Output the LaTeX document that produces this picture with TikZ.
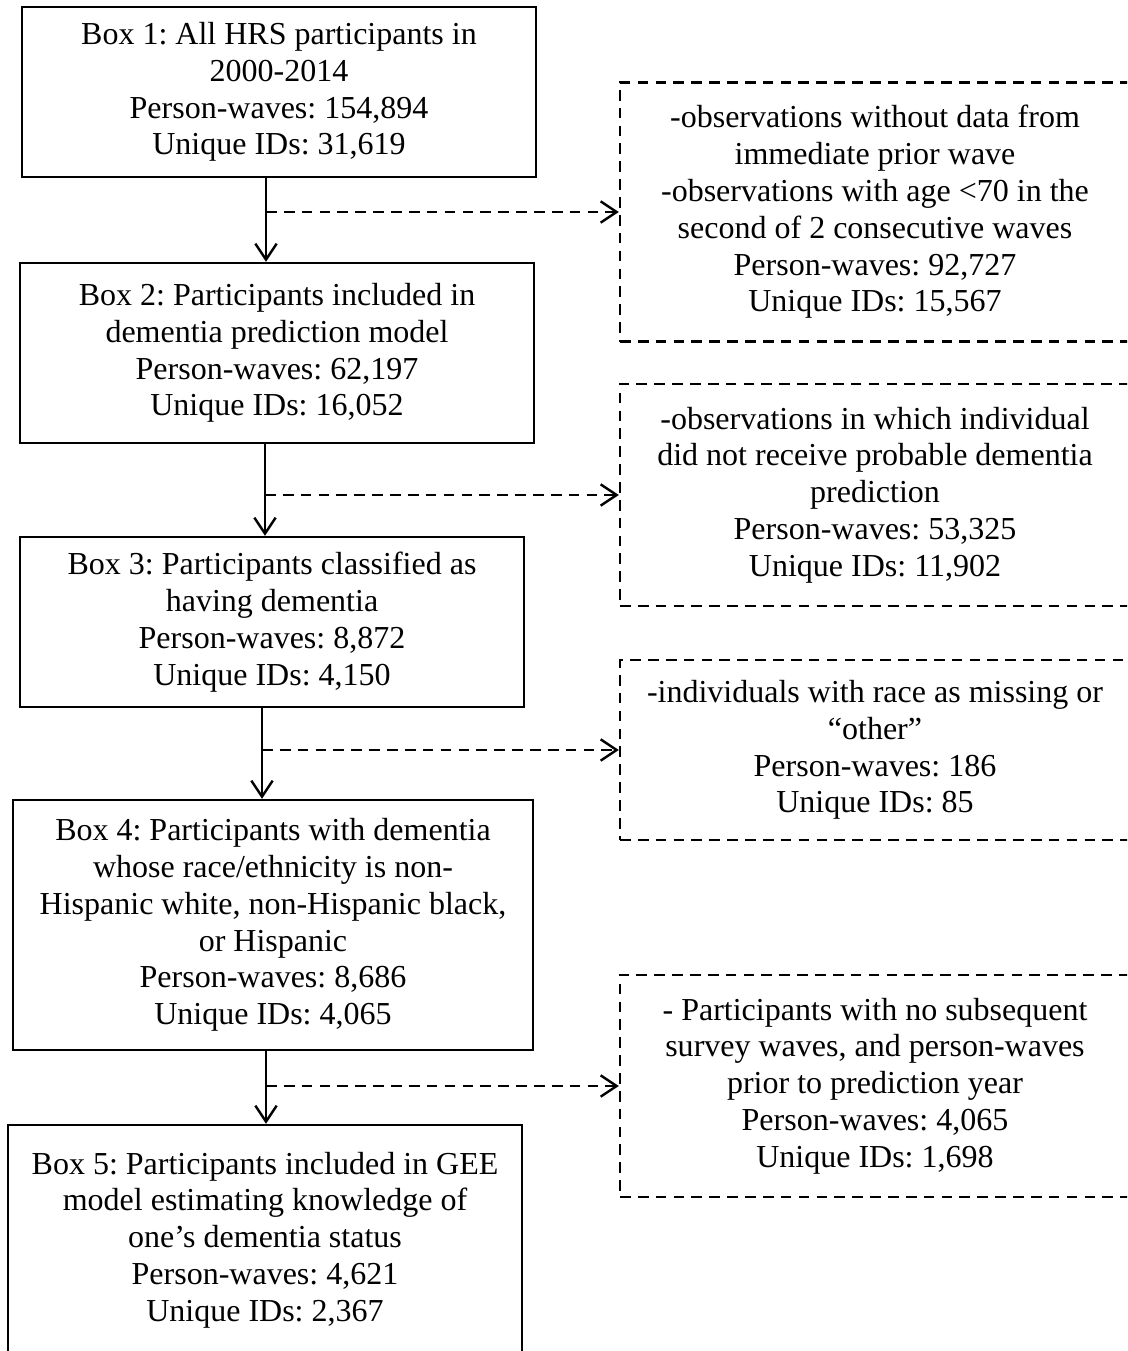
\documentclass[tikz,border=0pt]{standalone}
\usepackage{fontspec}
\setmainfont{Liberation Serif}
\usetikzlibrary{arrows.meta}
\frenchspacing

\begin{document}
\begin{tikzpicture}[x=0.375pt, y=-0.375pt, line width=0.9pt,
                    box/.style={draw, rectangle, align=center, inner sep=0pt, font=\fontsize{12}{13.8}\selectfont},
                    cut/.style={box, dash pattern=on 4pt off 2.7pt, minimum width=510*0.375pt},
                    flow/.style={-{Straight Barb[length=6pt, width=8pt]}}]

    \useasboundingbox (0,0) rectangle (1127,1351);
    \clip (0,0) rectangle (1127,1351);

    % Boxes
    \node[box, minimum width=514*0.375pt, minimum height=170*0.375pt] (B1) at (279, 92)
        {Box 1: All HRS participants in\\2000-2014\\Person-waves: 154,894\\Unique IDs: 31,619};
    \node[box, minimum width=514*0.375pt, minimum height=180*0.375pt] (B2) at (277, 353)
        {Box 2: Participants included in\\dementia prediction model\\Person-waves: 62,197\\Unique IDs: 16,052};
    \node[box, minimum width=504*0.375pt, minimum height=170*0.375pt] (B3) at (272, 622)
        {Box 3: Participants classified as\\having dementia\\Person-waves: 8,872\\Unique IDs: 4,150};
    \node[box, minimum width=520*0.375pt, minimum height=250*0.375pt] (B4) at (273, 925)
        {Box 4: Participants with dementia\\whose race/ethnicity is non-\\Hispanic white, non-Hispanic black,\\or Hispanic\\Person-waves: 8,686\\Unique IDs: 4,065};
    \node[box, minimum width=514*0.375pt, minimum height=230*0.375pt] (B5) at (265, 1240)
        {Box 5: Participants included in GEE\\model estimating knowledge of\\one’s dementia status\\Person-waves: 4,621\\Unique IDs: 2,367};

    % Exclusions
    \node[cut, minimum height=259*0.375pt] (D1) at (875, 212)
        {-observations without data from\\immediate prior wave\\-observations with age <70 in the\\second of 2 consecutive waves\\Person-waves: 92,727\\Unique IDs: 15,567};
    \node[cut, minimum height=222*0.375pt] (D2) at (875, 495)
        {-observations in which individual\\did not receive probable dementia\\prediction\\Person-waves: 53,325\\Unique IDs: 11,902};
    \node[cut, minimum height=180*0.375pt] (D3) at (875, 750)
        {-individuals with race as missing or\\“other”\\Person-waves: 186\\Unique IDs: 85};
    \node[cut, minimum height=222*0.375pt] (D4) at (875, 1086)
        {- Participants with no subsequent\\survey waves, and person-waves\\prior to prediction year\\Person-waves: 4,065\\Unique IDs: 1,698};

    % Spine of each step
    \coordinate (k1) at (266, 0);
    \coordinate (k2) at (265, 0);
    \coordinate (k3) at (262, 0);
    \coordinate (k4) at (266, 0);

    % Arrows
    \path[flow]
    (B1.south -| k1) edge (B2.north -| k1)
    (B2.south -| k2) edge (B3.north -| k2)
    (B3.south -| k3) edge (B4.north -| k3)
    (B4.south -| k4) edge (B5.north -| k4);

    \path[flow, dash pattern=on 4pt off 2.7pt]
    (D1.west -| k1) edge (D1.west)
    (D2.west -| k2) edge (D2.west)
    (D3.west -| k3) edge (D3.west)
    (D4.west -| k4) edge (D4.west);

\end{tikzpicture}
\end{document}
